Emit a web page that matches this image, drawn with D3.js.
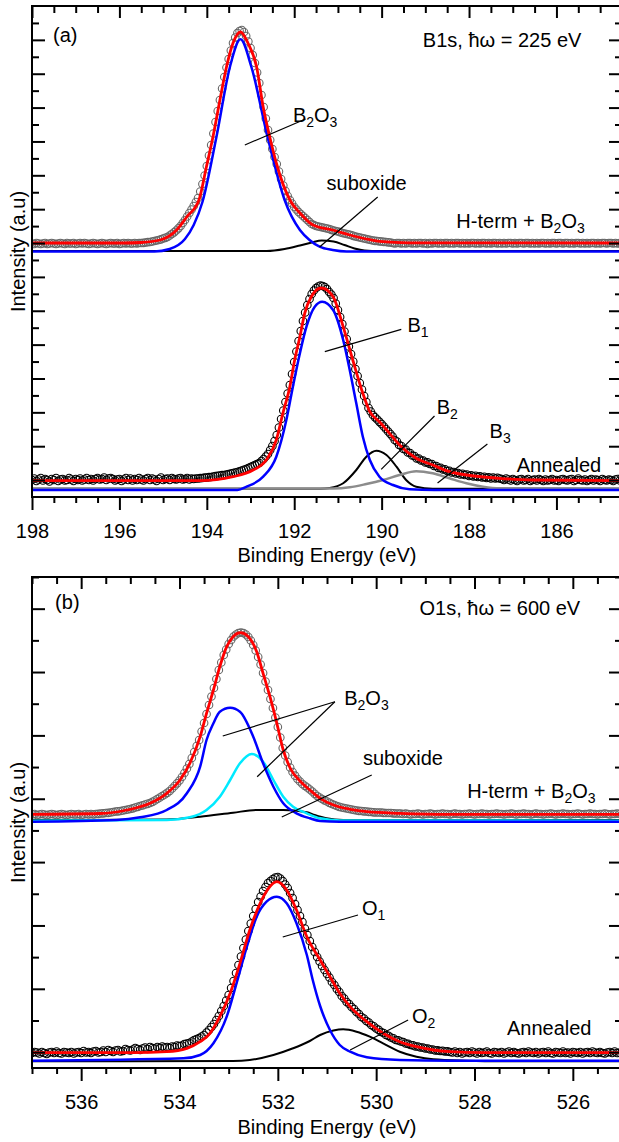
<!DOCTYPE html>
<html>
<head>
<meta charset="utf-8">
<script src="https://cdn.jsdelivr.net/npm/d3@7/dist/d3.min.js"></script>
<style>
  body { margin: 0; background: #fff; }
  text { font-family: "Liberation Sans", Arial, sans-serif; fill: #000; }
</style>
</head>
<body>
<svg id="chart" width="619" height="1142"></svg>
<script>
// ---------- data (intensity in a.u.) ----------
const dataStep = 0.05;

// B1s spectra, sampled from 198.0 eV downwards
const b1sStart = 198.0;
const b1sHtermData = [
  253.5,253,254,253.5,253,253.5,254,253,253.5,254,
  253.5,253,253.5,254,253.5,253,254,253.5,253.5,254,
  253,253.5,254,253.5,254,253.5,253,253.5,254,253.5,
  253,253.5,254,253.5,253,253.5,254,253.5,253.5,254,
  253,253.5,254,253.5,254,253.5,253.5,254,253.5,254,
  254,254.2,254.5,254.8,255,255.5,256,256.5,257,257.7,
  258.5,259.2,260,261.5,263,264.7,266.5,268.7,271,274,
  277,280.5,284,287.5,291,295,299,305.5,313,321.5,
  331,341.5,352,363.5,375,386,397,408.5,420,429.5,
  438,446.5,454,459.5,464,466,467,465,461,455.5,
  449,442,434,424.5,414,402,390,378.5,367,357,
  348,340,333,325.5,318,311.5,306,301,297,293.5,
  290,287.5,285,283,281,279,277,275,273,272,
  271,270.5,270,269.5,269,268.5,268,267.2,266.5,266,
  265.5,264.8,264,263.5,263,262.5,262,261.2,260.5,260,
  259.5,259,258.5,258,257.5,257,256.5,256.2,256,255.7,
  255.5,255.2,255,254.7,254.5,
  254,253.5,254,254,253.5,254,253.5,254,254,253.5,
  254,253.5,254,254,253.5,254,253,254,253.5,254,
  254,253.5,254,253.5,254,254,253.5,254,253.5,254,
  254,253.5,254,253.5,254,253.5,254,254,253.5,254,
  253.5,254,254,253.5,254,253.5,254,254,253.5,254,
  253.5,254,253.5,254,254,253.5,254,253.5,254,254,
  253.5,254,254,253.5,254,253.5,254,253.5,254,254,
  253.5,254,253.5,254,254,253.5,254,254,253.5,254,
  254,253.5,254,253.5,254,254,253.5,254,253.5,254,
  253.5,254,254,253.5,254,253.5,254,254,253.5,254,
  254,253.5,254,253.5,254,254
];
const b1sAnnealedData = [
  17,18.5,16,17.5,19,16.5,18,17,15.5,18,
  17,19,16,17.5,18,16.5,17,19,17.5,16,
  18,17,18.5,16.5,17.5,19,17,18,16.5,18,
  19,17.5,18,19.5,17,18.5,19,18,16.5,17.5,
  18,16,17.5,19,17,18.5,16.5,18,17,19,
  17.5,16.5,18,19,17,18.5,17.5,16,18,19.5,
  17,18,18.5,17,19,18,17.5,18.5,19,17.5,
  18,19,17.5,18.5,
  18,18.5,18.5,18.8,19,19.3,19.5,19.8,20,20.5,
  21,21.2,21.5,21.8,22,22.5,23,23.5,24,24.5,
  25,25.7,26.5,27.2,28,29,30,31,32,33,
  34,36,38,40.5,43,47,51,56,62,69.5,
  78,86.5,95,103.5,112,123,135,145.5,156,166,
  176,184.5,192,198,203,206.5,209,210.5,211.5,211,
  210,208,205,202.5,199,193.5,187,180,173,165.5,
  158,150.5,143,135.5,128,121,114,107.5,101,95,
  89,85.5,82,79.7,77.5,75.2,73,70.5,68,65.5,
  63,60.5,57,55.5,52,51,48,47.5,44.5,44,
  41.5,41,38.5,38.5,36.5,36.5,34.5,34.7,33,33,
  31,31,29,29.2,27.5,27.7,26,26.2,24.5,25,
  23.5,24,22.5,23.2,22,22.5,21,21.7,20.5,21.2,
  20,20.7,19.5,20.2,19,19.7,18.5,19.5,18.5,19.2,
  18.5,
  18,17,18.5,17.5,16.5,18,17,16,17.5,18,
  16.5,17,18,16,17,17.5,16.5,18,17,16,
  17.5,16.5,17,18,16.5,17,16,17.5,18,17,
  16.5,17.5,18,16,17,18.5,17,16.5,17.5,16,
  17,18,16.5,17.5,17,16,18,17,16.5,17.5,
  17,16,17.5,18,16.5,17
];
// fits and components: [binding energy, intensity]
const b1sHtermFit = [[198,254],[195.9,254],[195.5,254.5],[195.07,257],[194.69,267],[194.46,280],[194.18,297],[194.01,330],
  [193.86,360],[193.7,397],[193.55,430],[193.4,454],[193.23,465],[193.06,454],[192.86,430],[192.71,390],[192.56,360],
  [192.41,334],[192.1,297],[191.87,284],[191.57,272],[191.12,267],[190.73,262],[190.35,258],[189.98,255.3],[189.4,254.2],[184.5,254]];
const b1sHtermB2O3 = [[198,245.5],[195.2,245.5],[194.85,248],[194.5,258],[194.3,272],[194.1,295],[193.78,360],[193.47,430.3],
  [193.23,457.7],[192.98,430],[192.61,360],[192.22,297],[191.87,267],[191.65,257],[191.42,250.3],[191.12,247],[190.8,245.5],[184.5,245.5]];
const b1sHtermSuboxide = [[198,246],[192.63,246],[192.22,248],[191.87,251.5],[191.6,254.5],[191.37,256.5],[191.1,255.5],
  [190.85,252],[190.62,248.5],[190.39,246.5],[190.05,246],[184.5,246]];
const b1sAnnFit = [[198,16.3],[194.16,16.3],[193.4,20.3],[192.94,27],[192.64,37],[192.41,57],[192.26,83.7],[192.1,110.3],
  [191.99,137],[191.87,160.3],[191.76,183.7],[191.61,200.3],[191.38,209],[191.11,200.3],[190.88,170.3],[190.66,137],
  [190.43,103.7],[190.27,85.3],[190.05,75.3],[189.82,63.7],[189.59,52],[189.21,38.7],[188.83,32],[188.45,25.3],[188.06,22],
  [187.3,18.7],[186.55,17],[184.5,16.3]];
const b1sAnnB1 = [[198,7],[193.3,7],[193.09,10.3],[192.71,20.3],[192.41,40.3],[192.18,77],[192.03,110.3],[191.87,143.7],
  [191.72,170.3],[191.53,190.3],[191.36,195.3],[191.11,187],[190.88,157],[190.73,127],[190.58,93.7],[190.43,60.3],
  [190.27,37],[190.05,20.3],[189.74,12],[189.36,7.7],[188.8,7],[184.5,7]];
const b1sAnnB2 = [[198,8.3],[191.4,8.3],[191.19,9],[190.88,13.7],[190.58,27],[190.35,40.3],[190.12,46.3],[189.89,42],
  [189.66,30.3],[189.44,17],[189.21,10.3],[188.83,8.3],[184.5,8.3]];
const b1sAnnB3 = [[198,8.5],[191.11,8.5],[190.73,9.7],[190.35,13],[189.97,17],[189.59,22],[189.21,25.8],[188.83,23.7],
  [188.45,18.7],[188.06,13.7],[187.68,10.3],[187.3,8.7],[184.5,8.5]];

// O1s spectra, sampled from 537.0 eV downwards
const o1sStart = 537.0;
const o1sHtermData = [
  253.5,254,253,253.5,254,253.5,253,253.5,254,253.5,
  253,253.5,254,253.5,253,253.5,254,253.5,253.5,254,
  253,253.5,254,253.5,254,253.5,
  254,254.2,254.5,254.7,255,255.2,255.5,256,256.5,256.7,
  257,257.5,258,258.5,259,259.7,260.5,261.2,262,262.7,
  263.5,264.2,265,266.2,267.5,269,270.5,272,273.5,275.2,
  277,279.5,282,284.7,287.5,291,295,299.5,304,310,
  316,322,328,336.5,345,354,363,371.5,380,389,
  398,405.5,413,418.5,424,428,431.5,433.5,435,435.5,
  435,433.5,431,427.5,423,417.5,411,403.5,395,386.5,
  378,369,360,350.5,341,330.5,320,312.5,306,300.5,
  296,292.3,289,286.5,284,282.2,280.5,278.5,276.5,274.2,
  272,270.5,269,267.7,266.5,265.2,264,263,262,261.2,
  260.5,260,259.5,259,258.5,258,257.5,257.2,257,256.7,
  256.5,256.2,256,255.7,255.5,255.5,255.5,255.2,255,255,
  255,254.7,254.5,254.5,254.5,
  254,254.5,254,253.5,254,254,254.5,254,253.5,254,
  254,254.5,254,253.5,254,254,254.5,254,254,253.5,
  254,254.5,254,254,253.5,254,254,254.5,254,253.5,
  254,254,254.5,254,254,253.5,254,254,254.5,254,
  254,253.5,254,254,254.5,254,253.5,254,254,254.5,
  254,254,253.5,254,254.5,254,254,253.5,254,254,
  254.5,254,253.5,254,254,254.5,254,254,253.5,254,
  254,254.5,254,253.5,254,254,254.5,254,254,253.5,
  254,254,254.5,254,253.5,254,254,254.5,254,254
];
const o1sAnnealedData = [
  15,16,15.5,14.5,16,15,14,15.5,16,15,
  16.5,15,14.5,16,15.5,15,16,14.5,15.5,16,
  15,17,15.5,16,15,16.5,17,15.5,16,17.5,
  16,18,17,16,17.5,18,16.5,17,19,18,
  17.5,18.5,20,19,18,19.5,20.5,19,21,20,
  19.5,21,20,21.5,20.5,21,20,21.5,21,22.5,
  22,22.5,24,24.5,25,26.5,28,29,30,31.5,
  33,35.5,38,41,44,48,52,57,62,67.5,
  73,80,87,95,103,111.5,120,128.5,137,144.5,
  152,159,166,171.5,177,181,185,187,189,190.5,
  191,189.5,187,183.5,180,175,170,164,158,152,
  146,139.5,133,127,121,116,111,106.5,102,98,
  94,90.5,86,83,79,76,72,69.5,66,64,
  61,59,56,54,51,49.5,47,45.5,43,41.7,
  39.5,38.2,36,35,33,32.2,30.5,29.7,28,27.7,
  26.5,26,24.5,24.2,23,22.7,21.5,21.5,20.5,20.5,
  19.5,19.5,18.5,18.5,17.5,17.7,17,17.2,16.5,16.7,
  16,
  15.5,16.5,15,16,14.5,15.5,16,15,16.5,15.5,
  14.5,16,15,15.5,16.5,15,14.5,16,15.5,15,
  16,14.5,15.5,16.5,15,16,15,14.5,15.5,16,
  15,16.5,15.5,15,16,14.5,15.5,16,15,16.5,
  15,14.5,16,15.5,15,16.5,15,15.5,14.5,16,
  15.5,15,16,14.5,15.5,16,15,16.5,15.5,15,
  16,15,14.5,15.5,16,15,16.5,15,15.5,16
];
const o1sHtermFit = [[537,253.7],[535.62,254.5],[535.07,258],[534.6,264.7],[534.26,274.7],[533.99,288],[533.79,304.7],
  [533.58,331.3],[533.45,354.7],[533.31,378],[533.18,401.3],[533.04,421.3],[532.91,431.3],[532.76,435.3],[532.6,431.3],
  [532.43,416.3],[532.3,394.7],[532.16,371.3],[532.02,344.7],[531.89,318],[531.75,300],[531.55,287],[531.35,278],
  [531.14,269.7],[530.87,263],[530.53,258.7],[530.19,256.3],[529.52,254.7],[528.5,253.7],[525,253.7]];
const o1sHtermB2O3a = [[537,246.3],[535.28,248],[534.8,250.7],[534.26,258],[533.85,274.7],[533.58,301.3],[533.45,328],
  [533.31,344.7],[533.18,356.3],[532.97,360.3],[532.77,356.3],[532.5,331.3],[532.3,304.7],[532.09,281.3],[531.89,264.7],
  [531.62,254.7],[531.35,249.7],[531.14,247],[530.74,246.3],[525,246.3]];
const o1sHtermB2O3b = [[537,247.3],[534.26,248],[533.79,250.7],[533.45,258],[533.18,271.3],[532.97,288],[532.77,304.7],
  [532.53,314],[532.3,306.3],[532.09,288],[531.89,271.3],[531.69,261.3],[531.41,254.7],[531.14,249.7],[530.74,247.5],[525,247.3]];
const o1sHtermSuboxide = [[537,248],[534.26,248.5],[533.58,251.3],[532.91,255.3],[532.43,258],[531.89,258],[531.41,255.7],
  [531.25,253],[531.01,249.7],[530.67,248],[525,248]];
const o1sAnnFit = [[537,15.3],[534.94,15.3],[534.26,16.3],[533.85,19.7],[533.58,26.3],[533.38,34.7],[533.18,51.3],
  [532.97,74.7],[532.77,104.7],[532.57,138],[532.36,164.7],[532.19,179.7],[532.02,186.3],[531.82,178],[531.62,158],
  [531.41,131.3],[531.14,108],[530.94,91.3],[530.74,74.7],[530.53,61.3],[530.19,46.3],[529.86,34.7],[529.52,26.3],
  [529.18,21.3],[528.84,18],[528.5,16.3],[527.82,15.3],[525,15.3]];
const o1sAnnO1 = [[537,7.3],[533.92,9.7],[533.58,13],[533.31,24.7],[533.04,51.3],[532.84,84.7],[532.63,121.3],[532.43,151.3],
  [532.23,166.3],[532.02,171.3],[531.82,164.7],[531.62,144.7],[531.41,113],[531.29,88],[531.14,62],[530.94,38],[530.74,23],
  [530.53,16.3],[530.19,10.7],[529.52,8],[528.5,7.3],[525,7.3]];
const o1sAnnO2 = [[537,6.7],[532.91,7],[532.57,8],[532.09,13],[531.69,19.7],[531.35,27],[531.14,33],[530.87,37.5],
  [530.67,38.7],[530.4,36.3],[530.13,31.3],[529.86,24.7],[529.52,16.3],[529.18,11.3],[528.84,8.7],[528.16,7.3],[527.5,6.7],[525,6.7]];

const b1sMajorTicks = [198, 196, 194, 192, 190, 188, 186];
const o1sMajorTicks = [536, 534, 532, 530, 528, 526];

// labels and leader lines, in data units
const b1sLabels = [
  {parts: ["(a)"], e: 197.52, v: 455},
  {parts: ["B1s, ħω = 225 eV"], e: 185.43, v: 450, anchor: "end"},
  {parts: ["B", ["2"], "O", ["3"]], e: 192.03, v: 375},
  {parts: ["suboxide"], e: 191.26, v: 307},
  {parts: ["H-term + B", ["2"], "O", ["3"]], e: 188.29, v: 269},
  {parts: ["B", ["1"]], e: 189.41, v: 165},
  {parts: ["B", ["2"]], e: 188.74, v: 83},
  {parts: ["B", ["3"]], e: 187.53, v: 59},
  {parts: ["Annealed"], e: 186.91, v: 25}
];
const b1sLeaders = [
  [[193.13, 352], [191.74, 378]],
  [[190.09, 300], [191.42, 250]],
  [[189.55, 167.7], [191.30, 145.3]],
  [[188.79, 81], [190.01, 27.7]],
  [[187.58, 53], [188.72, 14]]
];
const o1sLabels = [
  {parts: ["(b)"], e: 536.53, v: 459},
  {parts: ["O1s, ħω = 600 eV"], e: 525.85, v: 453, anchor: "end"},
  {parts: ["B", ["2"], "O", ["3"]], e: 530.65, v: 363},
  {parts: ["suboxide"], e: 530.27, v: 303},
  {parts: ["H-term + B", ["2"], "O", ["3"]], e: 528.15, v: 270},
  {parts: ["O", ["1"]], e: 530.29, v: 153},
  {parts: ["O", ["2"]], e: 529.27, v: 45},
  {parts: ["Annealed"], e: 527.34, v: 33}
];
const o1sLeaders = [
  [[530.84, 366.3], [533.12, 332]],
  [[530.84, 366.3], [532.42, 291.3]],
  [[530.09, 293], [531.92, 251]],
  [[530.37, 153], [531.90, 131]],
  [[529.35, 48], [530.53, 18]]
];

// ---------- drawing ----------
const svg = d3.select("#chart");
const left = 32, right = 622;

function toPoints(start, values) {
  return values.map((v, i) => [start - i * dataStep, v]);
}

function addLabel(g, d, x, y) {
  const t = g.append("text")
    .attr("x", x(d.e)).attr("y", y(d.v))
    .attr("font-size", 20)
    .attr("text-anchor", d.anchor || "start");
  let low = false;
  d.parts.forEach(p => {
    if (Array.isArray(p)) {
      t.append("tspan").attr("dy", low ? 0 : 5).attr("font-size", 14).text(p[0]);
      low = true;
    } else {
      t.append("tspan").attr("dy", low ? -5 : 0).text(p);
      low = false;
    }
  });
}

function drawPanel(p) {
  const x = d3.scaleLinear().domain(p.xDomain).range([left, right]);
  const y = d3.scaleLinear().domain([0, 491]).range([p.bottom, p.top]);
  const g = svg.append("g");
  const clipId = "clip" + p.id;
  svg.append("clipPath").attr("id", clipId)
    .append("rect").attr("x", left).attr("y", p.top).attr("width", right - left).attr("height", p.bottom - p.top);

  const plot = g.append("g").attr("clip-path", `url(#${clipId})`);
  const line = d3.line().x(d => x(d[0])).y(d => y(d[1])).curve(d3.curveMonotoneX);

  p.data.forEach(s => {
    plot.append("g").selectAll("circle").data(s.points).join("circle")
      .attr("cx", d => x(d[0])).attr("cy", d => y(d[1])).attr("r", 3.8)
      .attr("fill", "none").attr("stroke", s.color).attr("stroke-width", 1.1);
  });
  p.curves.forEach(c => {
    plot.append("path").datum(c.points).attr("d", line)
      .attr("fill", "none").attr("stroke", c.color).attr("stroke-width", c.width);
  });

  // leader lines
  g.selectAll("line.leader").data(p.leaders).join("line").attr("class", "leader")
    .attr("x1", d => x(d[0][0])).attr("y1", d => y(d[0][1]))
    .attr("x2", d => x(d[1][0])).attr("y2", d => y(d[1][1]))
    .attr("stroke", "#000").attr("stroke-width", 1.2);
  p.labels.forEach(d => addLabel(g, d, x, y));

  // axes
  const [e0, e1] = p.xDomain;
  const minorX = d3.range(e1, e0 + 0.01, 0.5).filter(v => !p.majors.includes(Math.round(v * 10) / 10));
  const step = 491 / p.ySteps;
  const majorY = d3.range(p.yFirstMajor, p.ySteps, 2).map(k => k * step);
  const minorY = d3.range(p.yFirstMajor + 1, p.ySteps + 0.01, 2).map(k => k * step);

  const axes = [
    [d3.axisBottom(x).tickValues(p.majors).tickSize(13).tickPadding(14).tickFormat(d3.format("d")), `translate(0,${p.bottom})`],
    [d3.axisBottom(x).tickValues(minorX).tickSize(6).tickFormat(""), `translate(0,${p.bottom})`],
    [d3.axisBottom(x).tickValues(p.majors).tickSize(12).tickFormat(""), `translate(0,${p.top})`],
    [d3.axisBottom(x).tickValues(minorX).tickSize(7).tickFormat(""), `translate(0,${p.top})`],
    [d3.axisRight(y).tickValues(majorY).tickSize(13).tickFormat(""), `translate(${left},0)`],
    [d3.axisRight(y).tickValues(minorY).tickSize(7).tickFormat(""), `translate(${left},0)`],
    [d3.axisLeft(y).tickValues(majorY).tickSize(13).tickFormat(""), `translate(${right},0)`],
    [d3.axisLeft(y).tickValues(minorY).tickSize(7).tickFormat(""), `translate(${right},0)`]
  ];
  axes.forEach(([ax, tr]) => {
    const a = g.append("g").attr("transform", tr).call(ax);
    a.select(".domain").remove();
    a.selectAll(".tick line").attr("stroke", "#000").attr("stroke-width", 2);
    a.selectAll(".tick text").attr("font-size", 20).attr("fill", "#000")
      .attr("font-family", '"Liberation Sans", Arial, sans-serif');
  });

  g.append("rect").attr("x", left).attr("y", p.top).attr("width", right - left).attr("height", p.bottom - p.top)
    .attr("fill", "none").attr("stroke", "#000").attr("stroke-width", 2);

  g.append("text").attr("x", (left + right) / 2).attr("y", p.titleY)
    .attr("text-anchor", "middle").attr("font-size", 20).text("Binding Energy (eV)");
  g.append("text").attr("transform", `translate(25,${(p.top + p.bottom) / 2}) rotate(-90)`)
    .attr("text-anchor", "middle").attr("font-size", 20).text("Intensity (a.u)");
}

const grayData = "#666666", red = "#ff0000", blue = "#0000ff", cyan = "#00eaff", gray = "#8c8c8c";

drawPanel({
  id: "a", top: 6, bottom: 497, titleY: 562, xDomain: [198, 184.5], majors: b1sMajorTicks,
  ySteps: 29, yFirstMajor: 1,
  data: [
    {points: toPoints(b1sStart, b1sHtermData), color: grayData},
    {points: toPoints(b1sStart, b1sAnnealedData), color: "#000"}
  ],
  curves: [
    {points: b1sHtermSuboxide, color: "#000", width: 2},
    {points: b1sHtermB2O3, color: blue, width: 2.5},
    {points: b1sHtermFit, color: red, width: 2.8},
    {points: b1sAnnB2, color: "#000", width: 2},
    {points: b1sAnnB3, color: gray, width: 2.5},
    {points: b1sAnnB1, color: blue, width: 2.5},
    {points: b1sAnnFit, color: red, width: 2.8}
  ],
  labels: b1sLabels, leaders: b1sLeaders
});

drawPanel({
  id: "b", top: 577, bottom: 1068, titleY: 1134, xDomain: [537, 525], majors: o1sMajorTicks,
  ySteps: 15.5, yFirstMajor: 0.5,
  data: [
    {points: toPoints(o1sStart, o1sHtermData), color: grayData},
    {points: toPoints(o1sStart, o1sAnnealedData), color: "#000"}
  ],
  curves: [
    {points: o1sHtermSuboxide, color: "#000", width: 2},
    {points: o1sHtermB2O3b, color: cyan, width: 2.5},
    {points: o1sHtermB2O3a, color: blue, width: 2.5},
    {points: o1sHtermFit, color: red, width: 2.8},
    {points: o1sAnnO2, color: "#000", width: 2},
    {points: o1sAnnO1, color: blue, width: 2.5},
    {points: o1sAnnFit, color: red, width: 2.8}
  ],
  labels: o1sLabels, leaders: o1sLeaders
});
</script>
</body>
</html>
